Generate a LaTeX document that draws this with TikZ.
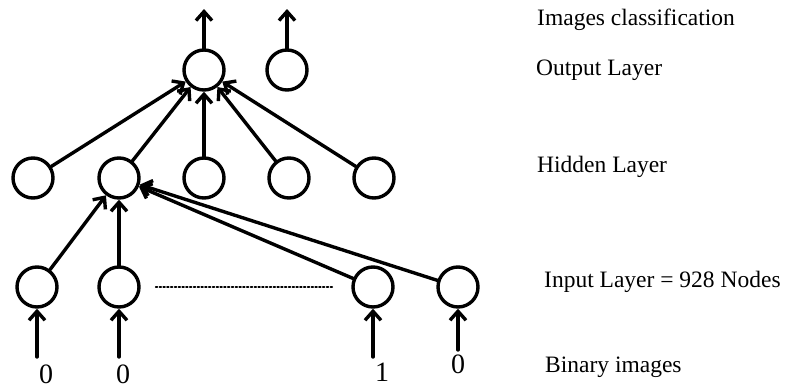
\documentclass[tikz,border=0pt]{standalone}
\usepackage{fontspec}
\setmainfont{Liberation Serif}
\usetikzlibrary{arrows.meta,calc}
\tikzset{
  >={Straight Barb[length=9pt,width=16pt]},
  neuron/.style={draw,circle,line width=3.4pt,minimum size=40pt,inner sep=0pt},
  arrow/.style={->,line width=3.4pt},
  layerlabel/.style={anchor=base west,inner sep=0pt,
                     font=\fontsize{23.5}{28}\selectfont},
  bit/.style={anchor=base,inner sep=0pt,font=\fontsize{28}{32}\selectfont}
}

\begin{document}
\begin{tikzpicture}[x=1pt,y=-1pt,line cap=round,line join=round]
  \useasboundingbox (0,0) rectangle (786,388);
  % Output layer
  \node[neuron] (o1) at (204,70) {};
  \node[neuron] (o2) at (287,70) {};
  \coordinate (t1) at (204,9);
  \coordinate (t2) at (287,9);
  \draw[arrow] (o1) -- (t1);
  \draw[arrow] (o2) -- (t2);

  % Hidden layer
  \node[neuron] (h1) at (33,178) {};
  \node[neuron] (h2) at (119,178) {};
  \node[neuron] (h3) at (204,178) {};
  \node[neuron] (h4) at (289,178) {};
  \node[neuron] (h5) at (374,178) {};
  \draw[arrow] (h1) -- (o1);
  \draw[arrow] (h2) -- (o1);
  \draw[arrow] (h3) -- (o1);
  \draw[arrow] (h4) -- (o1);
  \draw[arrow] (h5) -- (o1);

  % Input layer
  \node[neuron] (i1) at (37,287) {};
  \node[neuron] (i2) at (119,287) {};
  \node[neuron] (i3) at (373,287) {};
  \node[neuron] (i4) at (458,287) {};
  \draw[arrow] (i1) -- (h2);
  \draw[arrow] (i2) -- (h2);
  \draw[arrow] (i3) -- (h2);
  \draw[arrow] (i4) -- (h2);
  \draw[line width=1.8pt,dash pattern=on 1.6pt off 2.2pt,
        shorten <=15pt,shorten >=19pt] (i2) -- (i3);

  % Binary inputs
  \coordinate (s1) at (37,357);
  \coordinate (s2) at (119,357);
  \coordinate (s3) at (373,357);
  \coordinate (s4) at (458,350);
  \draw[arrow] (s1) -- (i1);
  \draw[arrow] (s2) -- (i2);
  \draw[arrow] (s3) -- (i3);
  \draw[arrow] (s4) -- (i4);
  \node[bit] (b1) at (46,383) {0};
  \node[bit] (b2) at (123,383) {0};
  \node[bit] (b3) at (382,381) {1};
  \node[bit] (b4) at (458,373) {0};

  % Labels
  \node[layerlabel] (lclass) at (537,25) {Images classification};
  \node[layerlabel] (lout) at (536,75) {Output Layer};
  \node[layerlabel] (lhid) at (537,172) {Hidden Layer};
  \node[layerlabel] (lin) at (544,287) {Input Layer = 928 Nodes};
  \node[layerlabel] (lbin) at (545,372) {Binary images};
\end{tikzpicture}
\end{document}
